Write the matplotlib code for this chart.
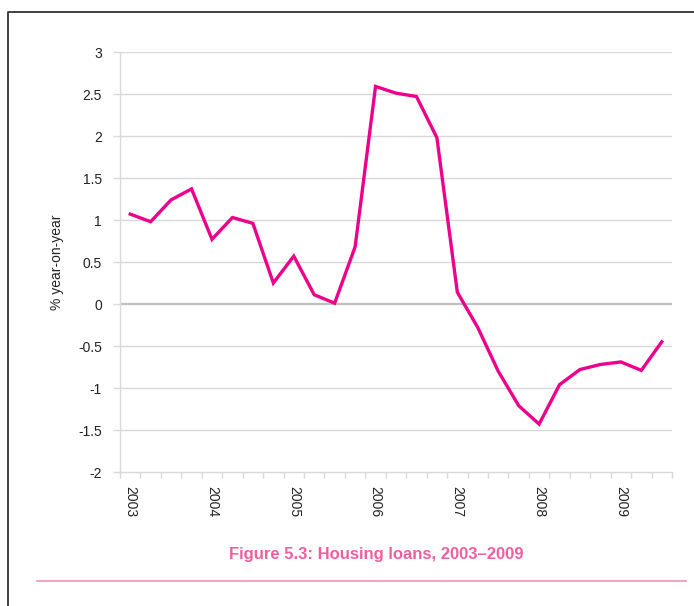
import matplotlib
matplotlib.use("Agg")
import matplotlib.pyplot as plt
from matplotlib.lines import Line2D
from matplotlib import font_manager as fm
import numpy as np

years = ["2003", "2004", "2005", "2006", "2007", "2008", "2009"]
quarters_per_year = 4
values = [1.07, 0.98, 1.24, 1.37, 0.77, 1.03, 0.96, 0.25,
          0.57, 0.11, 0.01, 0.68, 2.59, 2.51, 2.47, 1.98,
          0.14, -0.28, -0.80, -1.21, -1.43, -0.96, -0.78, -0.72,
          -0.69, -0.79, -0.45]
yticks = [-2, -1.5, -1, -0.5, 0, 0.5, 1, 1.5, 2, 2.5, 3]
ytick_labels = ["-2", "-1.5", "-1", "-0.5", "0", "0.5", "1", "1.5", "2", "2.5", "3"]
ylabel = "% year-on-year"
title = "Figure 5.3: Housing loans, 2003\u20132009"

names = {f.name for f in fm.fontManager.ttflist}
base_font = "Liberation Sans" if "Liberation Sans" in names else "DejaVu Sans"
title_font = "Liberation Sans Narrow" if "Liberation Sans Narrow" in names else base_font
plt.rcParams['font.family'] = [base_font, 'DejaVu Sans']

W, H = 694, 606
fig = plt.figure(figsize=(W / 100, H / 100), dpi=100)

# Plot area
ax = fig.add_axes([120 / W, 1 - 472 / H, 552 / W, 420 / H])
n = len(values)
x = np.arange(n)
ax.plot(x, values, color="#EC008C", lw=2.4, solid_joinstyle="miter", zorder=3)

ax.set_xlim(-0.5, n - 0.5)
ax.set_ylim(-2, 3)
ax.set_yticks(yticks)
ax.set_yticklabels(ytick_labels, fontsize=10, color="#222222")
grid_c = "#d9d9d9"
for v in yticks:
    if v == 0:
        ax.axhline(0, color="#bfbfbf", lw=1.6, zorder=2)
    elif v != -2:
        ax.axhline(v, color=grid_c, lw=1.0, zorder=1)
ax.tick_params(axis="y", length=5, color=grid_c, width=1.0, pad=8)

# x: labels at first quarter of each year, ticks at category boundaries
label_pos = [i * quarters_per_year for i in range(len(years))]
ax.set_xticks(label_pos)
ax.set_xticklabels(years, rotation=-90, fontsize=10, color="#222222", va="top", ha="center")
ax.tick_params(axis="x", which="major", length=0, pad=10)
ax.set_xticks(np.arange(n + 1) - 0.5, minor=True)
ax.tick_params(axis="x", which="minor", length=4, color=grid_c, width=1.0)

for s in ["top", "right"]:
    ax.spines[s].set_visible(False)
ax.spines["left"].set_color(grid_c)
ax.spines["bottom"].set_color(grid_c)
ax.spines["left"].set_linewidth(1.0)
ax.spines["bottom"].set_linewidth(1.0)

ax.set_ylabel(ylabel, fontsize=10, color="#222222", labelpad=10)

# Frame and decorations
fig.add_artist(Line2D([8 / W, 8 / W, 1.0], [0.0, 1 - 12 / H, 1 - 12 / H],
                      transform=fig.transFigure, color="#333333", lw=1.3))
fig.add_artist(Line2D([37 / W, 686 / W], [1 - 581 / H, 1 - 581 / H],
                      transform=fig.transFigure, color="#F48FB8", lw=1.2))
fig.text(376 / W, 1 - 555 / H, title, ha="center", va="center",
         fontsize=12, fontweight="bold", color="#EF5FA0", family=[title_font, 'DejaVu Sans'])

fig.savefig("out.png", dpi=100)
